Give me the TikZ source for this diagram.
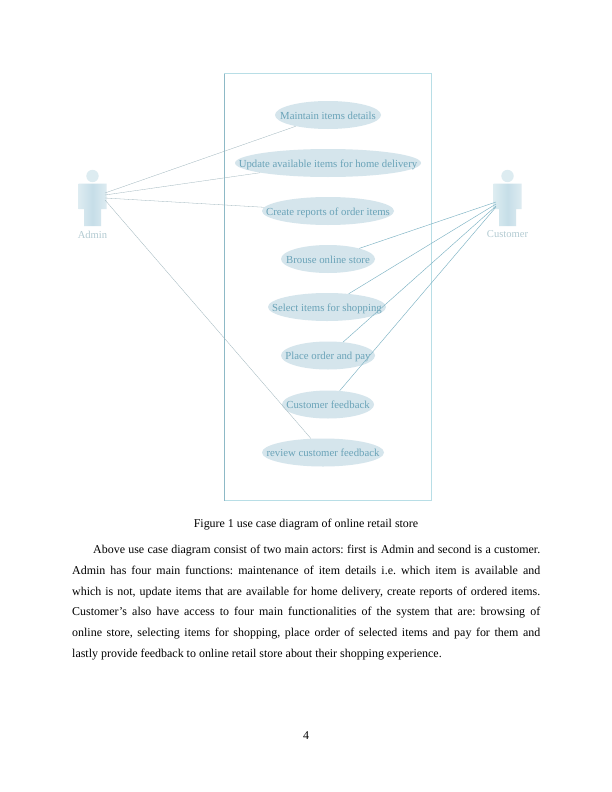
\documentclass[tikz,border=0pt]{standalone}
\usepackage{fontspec}
\setmainfont{Liberation Serif}
\usetikzlibrary{shapes.geometric}
\frenchspacing
\definecolor{ucfill}{HTML}{D5E5EC}
\definecolor{uctext}{HTML}{6AA3B8}
\definecolor{boxc}{HTML}{B8DEE6}
\definecolor{boxl}{HTML}{8DB9C6}
\definecolor{linec}{HTML}{7DB3C4}
\definecolor{linea}{HTML}{9DB4BB}
\definecolor{actc}{HTML}{C6DEE8}
\definecolor{actl}{HTML}{DDECF1}
\definecolor{actt}{HTML}{B3CBD2}
\tikzset{
  ucase/.style={ellipse,fill=ucfill,draw=none,inner sep=0pt,text=uctext,font=\fontsize{10.8}{12}\selectfont,minimum height=28bp,text height=9.5bp,text depth=1bp},
  actorlabel/.style={text=actt,font=\fontsize{10.6}{12}\selectfont,inner sep=0pt},
  wire/.style={linec,line width=0.45pt},
  wirea/.style={linea,line width=0.3pt},
  body/.style={inner sep=0pt,font=\fontsize{12}{20.8}\selectfont,text=black}
}
\newcommand{\actorfig}[2]{%
  \fill[actl] (#1,#2) circle[radius=6.2];
  \shade[left color=actl,right color=actl,middle color=actc]
   (#1-14,#2+7.5) -- (#1+14,#2+7.5) -- (#1+14,#2+33) -- (#1+8.5,#2+33) -- (#1+8.5,#2+50) -- (#1-8.5,#2+50) -- (#1-8.5,#2+33) -- (#1-14,#2+33) -- cycle;
}
\begin{document}
\begin{tikzpicture}[x=1bp,y=-1bp]
\useasboundingbox (0,0) rectangle (612,792);
\fill[white] (0,0) rectangle (612,792);
\draw[boxc,line width=0.8pt] (224.5,73.5) rectangle (431.5,500.5);
\draw[boxl,line width=0.6pt] (224.5,73.5) -- (224.5,500.5);
\actorfig{92.5}{176}
\actorfig{507.5}{176}
\node[actorlabel] (admin) at (92.5,234.5) {Admin};
\node[actorlabel] (customer) at (507.5,234.5) {Customer};
\coordinate (a1) at (105,193);
\coordinate (a2) at (105,195);
\coordinate (a3) at (105,198);
\coordinate (a4) at (105,200);
\coordinate (c1) at (496,202);
\coordinate (c2) at (496,204);
\coordinate (c3) at (496,206);
\coordinate (c4) at (496,207);
\node[ucase,minimum width=106bp] (m) at (328,115) {\makebox[0pt]{Maintain items details}};
\node[ucase,minimum width=186bp] (u) at (328,163) {\makebox[0pt]{Update available items for home delivery}};
\node[ucase,minimum width=132bp] (r) at (328,211) {\makebox[0pt]{Create reports of order items}};
\node[ucase,minimum width=94bp] (b) at (328,259) {\makebox[0pt]{Brouse online store}};
\node[ucase,minimum width=118bp] (s) at (327,307) {\makebox[0pt]{Select items for shopping}};
\node[ucase,minimum width=94bp] (p) at (328,355.5) {\makebox[0pt]{Place order and pay}};
\node[ucase,minimum width=92bp] (f) at (328,404.5) {\makebox[0pt]{Customer feedback}};
\node[ucase,minimum width=122bp] (v) at (323,452.5) {\makebox[0pt]{review customer feedback}};
\draw[wirea] (a1) -- (m);
\draw[wirea] (a2) -- (u);
\draw[wirea] (a3) -- (r);
\draw[wirea] (a4) -- (v);
\draw[wire] (c1) -- (b);
\draw[wire] (c2) -- (s);
\draw[wire] (c3) -- (p);
\draw[wire] (c4) -- (f);
\node[body] (caption) at (306,524.5) {Figure 1 use case diagram of online retail store};
\node[body,text width=468bp,anchor=north west,align=justify] (para) at (72,545) {\hskip 21bp Above use case diagram consist of two main actors: first is Admin and second is a customer.\linebreak
Admin has four main functions: maintenance of item details i.e. which item is available and\linebreak
which is not, update items that are available for home delivery, create reports of ordered items.\linebreak
Customer’s also have access to four main functionalities of the system that are: browsing of\linebreak
online store, selecting items for shopping, place order of selected items and pay for them and\linebreak
lastly provide feedback to online retail store about their shopping experience.};
\node[body] (page) at (306,736) {4};
\end{tikzpicture}
\end{document}
